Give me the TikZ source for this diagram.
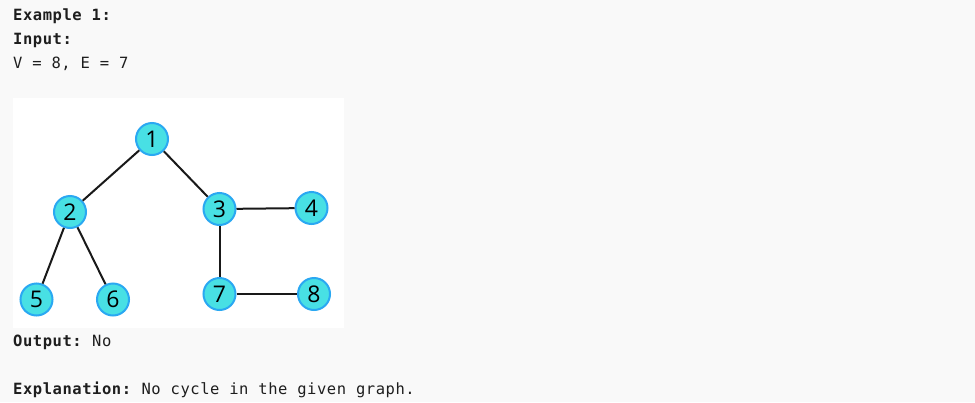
\documentclass[tikz,border=0pt]{standalone}
\usepackage{fontspec}
\setmonofont[LetterSpace=3.5]{DejaVu Sans Mono}
\newfontfamily\nodefont{Open Sans}
\definecolor{bgc}{HTML}{F9F9F9}
\definecolor{txt}{HTML}{1E1E1E}
\definecolor{nfill}{HTML}{48E0E4}
\definecolor{nedge}{HTML}{2AA8F2}
\tikzset{
  vtx/.style={circle, fill=nfill, draw=nedge, line width=2pt, minimum size=32pt, inner sep=0pt, font=\nodefont\fontsize{23}{23}\selectfont, text=black},
  edge/.style={line width=2pt, draw=black!90},
  lbl/.style={anchor=base west, inner sep=0pt, font=\ttfamily\fontsize{15.5}{17}\selectfont, text=txt}
}
\begin{document}
\begin{tikzpicture}[x=1pt,y=-1pt]
\fill[bgc] (0,0) rectangle (975,402);
\useasboundingbox (0,0) rectangle (975,402);
\fill[white] (13,98) rectangle (344,328);
\node[lbl] (t1) at (13,20.5) {\bfseries Example 1:};
\node[lbl] (t2) at (13,44.5) {\bfseries Input:};
\node[lbl] (t3) at (13,68.5) {V = 8, E = 7};
\node[lbl] (t4) at (13,346.5) {\textbf{Output:} No};
\node[lbl] (t5) at (13,394) {\textbf{Explanation:} No cycle in the given graph.};
\node[vtx] (n1) at (152,139) {1};
\node[vtx] (n2) at (70,212) {2};
\node[vtx] (n3) at (219.5,209) {3};
\node[vtx] (n4) at (311.5,208) {4};
\node[vtx] (n5) at (36.5,299.5) {5};
\node[vtx] (n6) at (113,299.5) {6};
\node[vtx] (n7) at (219.5,294) {7};
\node[vtx] (n8) at (314,294) {8};
\draw[edge] (n1) -- (n2);
\draw[edge] (n1) -- (n3);
\draw[edge] (n3) -- (n4);
\draw[edge] (n3) -- (n7);
\draw[edge] (n7) -- (n8);
\draw[edge] (n2) -- (n5);
\draw[edge] (n2) -- (n6);
\end{tikzpicture}
\end{document}
